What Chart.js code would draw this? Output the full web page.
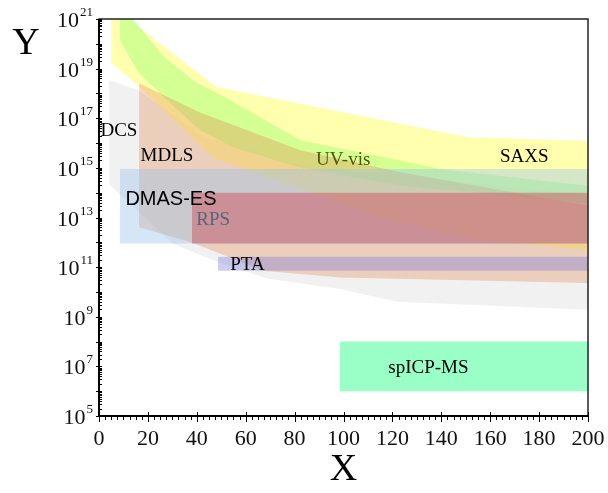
<!DOCTYPE html>
<html>
<head>
<meta charset="utf-8">
<script src="https://cdn.jsdelivr.net/npm/chart.js@4.4.1/dist/chart.umd.min.js"></script>
<style>
html, body { margin: 0; padding: 0; background: #fff; }
#wrap { width: 608px; height: 493px; }
</style>
</head>
<body>
<div id="wrap"><canvas id="chart"></canvas></div>
<script>
// axis ticks
const xMajorTicks = [0, 20, 40, 60, 80, 100, 120, 140, 160, 180, 200];
const yLabelExponents = [5, 7, 9, 11, 13, 15, 17, 19, 21];

// band outlines [x, y]: upper edge and lower edge of each technique
const dcsTop = [[4.1, 3.5e18], [16.4, 1.3e18], [41.5, 2e16], [82.5, 1.3e15], [200, 8e13]];
const dcsBottom = [[4.1, 2.3e14], [30, 8.9e11], [47.2, 1.8e11], [68.8, 3.5e10], [98.6, 1.3e10], [121.9, 4e9], [200, 1.9e9]];

const saxsTop = [[4.9, 3.5e21], [12, 1e21], [48, 1.8e18], [151, 1.7e16], [200, 1.2e16]];
const saxsBottom = [[4.9, 1.7e19], [16, 2.1e18], [46.6, 2.6e15], [115, 1e13], [151.8, 1.4e12], [200, 5e11]];

const uvTop = [[8.6, 4.4e21], [14, 1e21], [25.8, 3.5e19], [39.3, 2.9e18], [51.6, 7e17], [82.4, 1.3e16], [123.3, 2e15], [140.9, 8.7e14], [200, 1.9e14]];
const uvBottom = [[8.6, 1.4e20], [16, 7.2e18], [27.1, 6.3e17], [41.3, 3.3e16], [54.9, 6.8e15], [82.4, 1e15], [123.3, 1.9e14], [200, 3.7e13]];

const mdlsTop = [[16.4, 2.6e18], [41.3, 1.7e17], [82.4, 5.1e15], [123.3, 6.6e14], [200, 3e13]];
const mdlsBottom = [[16.4, 4e12], [38, 9.8e11], [67.1, 7.2e10], [98.6, 3.8e10], [200, 2.3e10]];

// rectangles [xFrom, xTo, yLow, yHigh]
const dmasBox = [8.6, 200, 9e11, 9e14];
const rpsBox = [38, 200, 9e11, 1e14];
const ptaBox = [48.7, 200, 7.2e10, 2.6e11];
const icpBox = [98.6, 200, 1e6, 1e8];

// labels [text, x, y]
const bandLabels = [
  ["DCS", 0.6, 3e16],
  ["MDLS", 17, 2.9e15],
  ["UV-vis", 88.8, 2e15],
  ["SAXS", 164, 2.7e15],
  ["DMAS-ES", 10.8, 5.3e13],
  ["RPS", 39.8, 7.6e12],
  ["PTA", 53.7, 1.26e11],
  ["spICP-MS", 118.3, 8.7e6]
];
const labelColors = {"UV-vis": "#55550f", "RPS": "#56667c"};

const pts = (arr) => arr.map(p => ({x: p[0], y: p[1]}));
const boxEdges = (b) => [[[b[0], b[3]], [b[1], b[3]]], [[b[0], b[2]], [b[1], b[2]]]];

function band(top, bottom, color) {
  const base = {pointRadius: 0, borderWidth: 1, borderColor: "rgba(0,0,0,0)", showLine: true};
  return [
    Object.assign({data: pts(top), fill: false}, base),
    Object.assign({data: pts(bottom), fill: "-1", backgroundColor: color}, base)
  ];
}

const datasets = [].concat(
  band(...boxEdges(icpBox), "rgba(110,255,175,0.7)"),
  band(...boxEdges(ptaBox), "rgba(130,130,220,0.4)"),
  band(...boxEdges(rpsBox), "rgba(206,86,97,0.5)"),
  band(...boxEdges(dmasBox), "rgba(150,195,235,0.4)"),
  band(mdlsTop, mdlsBottom, "rgba(225,140,90,0.35)"),
  band(uvTop, uvBottom, "rgba(170,255,120,0.5)"),
  band(saxsTop, saxsBottom, "rgba(255,255,120,0.6)"),
  band(dcsTop, dcsBottom, "rgba(200,200,200,0.25)")
);

const serif = "'Liberation Serif', 'DejaVu Serif', serif";

const decorations = {
  id: "decorations",
  afterDraw(chart) {
    const c = chart.ctx;
    const a = chart.chartArea;
    const xs = chart.scales.x;
    const ys = chart.scales.y;
    c.save();
    // labels
    bandLabels.forEach(l => {
      c.font = l[0] === "DMAS-ES" ? "20px 'Liberation Sans', Arial, sans-serif" : "19px " + serif;
      c.fillStyle = labelColors[l[0]] || "#000";
      c.textAlign = "left";
      c.textBaseline = "middle";
      c.fillText(l[0], xs.getPixelForValue(l[1]), ys.getPixelForValue(l[2]));
    });
    // frame
    c.strokeStyle = "#222";
    c.lineWidth = 1.5;
    c.strokeRect(a.left, a.top, a.right - a.left, a.bottom - a.top);
    c.strokeStyle = "#000";
    c.lineWidth = 2;
    c.beginPath();
    c.moveTo(a.left, a.top);
    c.lineTo(a.left, a.bottom);
    c.lineTo(a.right, a.bottom);
    c.stroke();
    // y ticks
    c.lineWidth = 1;
    c.beginPath();
    for (let e = 5; e <= 21; e++) {
      const py = Math.round(ys.getPixelForValue(Math.pow(10, e))) + 0.5;
      c.moveTo(a.left - 3, py); c.lineTo(a.left + 3, py);
      if (e < 21) {
        for (let m = 2; m <= 9; m++) {
          const q = Math.round(ys.getPixelForValue(m * Math.pow(10, e))) + 0.5;
          c.moveTo(a.left, q); c.lineTo(a.left + 3, q);
        }
      }
    }
    // x ticks
    for (let v = 0; v <= 200; v += 2.5) {
      const px = Math.round(xs.getPixelForValue(v)) + 0.5;
      const major = v % 20 === 0;
      c.moveTo(px, major ? a.bottom - 4 : a.bottom);
      c.lineTo(px, a.bottom + (major ? 6 : 4));
    }
    c.stroke();
    // x tick labels
    c.fillStyle = "#111";
    c.font = "22px " + serif;
    c.textAlign = "center";
    c.textBaseline = "top";
    xMajorTicks.forEach(v => c.fillText(String(v), xs.getPixelForValue(v), a.bottom + 12));
    // y tick labels 10^n
    c.textBaseline = "alphabetic";
    yLabelExponents.forEach(e => {
      const py = ys.getPixelForValue(Math.pow(10, e));
      const sup = String(e);
      c.font = "13px " + serif;
      const sw = c.measureText(sup).width;
      c.textAlign = "right";
      c.fillText(sup, a.left - 6, py - 3);
      c.font = "22px " + serif;
      c.fillText("10", a.left - 7 - sw, py + 8);
    });
    // axis titles
    c.fillStyle = "#000";
    c.font = "38px " + serif;
    c.textAlign = "center";
    c.textBaseline = "middle";
    c.fillText("X", (a.left + a.right) / 2, 470);
    c.fillText("Y", 26, 44);
    c.restore();
  }
};

new Chart(document.getElementById("chart"), {
  type: "line",
  data: {datasets: datasets},
  options: {
    responsive: true,
    maintainAspectRatio: false,
    animation: false,
    layout: {padding: {top: 19, right: 20, left: 0, bottom: 0}},
    scales: {
      x: {
        type: "linear",
        min: 0,
        max: 200,
        grid: {display: false},
        border: {display: false},
        ticks: {display: false},
        afterFit: (s) => { s.height = 77; }
      },
      y: {
        type: "logarithmic",
        min: 1e5,
        max: 1e21,
        grid: {display: false},
        border: {display: false},
        ticks: {display: false},
        afterFit: (s) => { s.width = 99; }
      }
    },
    plugins: {
      legend: {display: false},
      tooltip: {enabled: false},
      filler: {propagate: false}
    }
  },
  plugins: [decorations]
});
</script>
</body>
</html>
